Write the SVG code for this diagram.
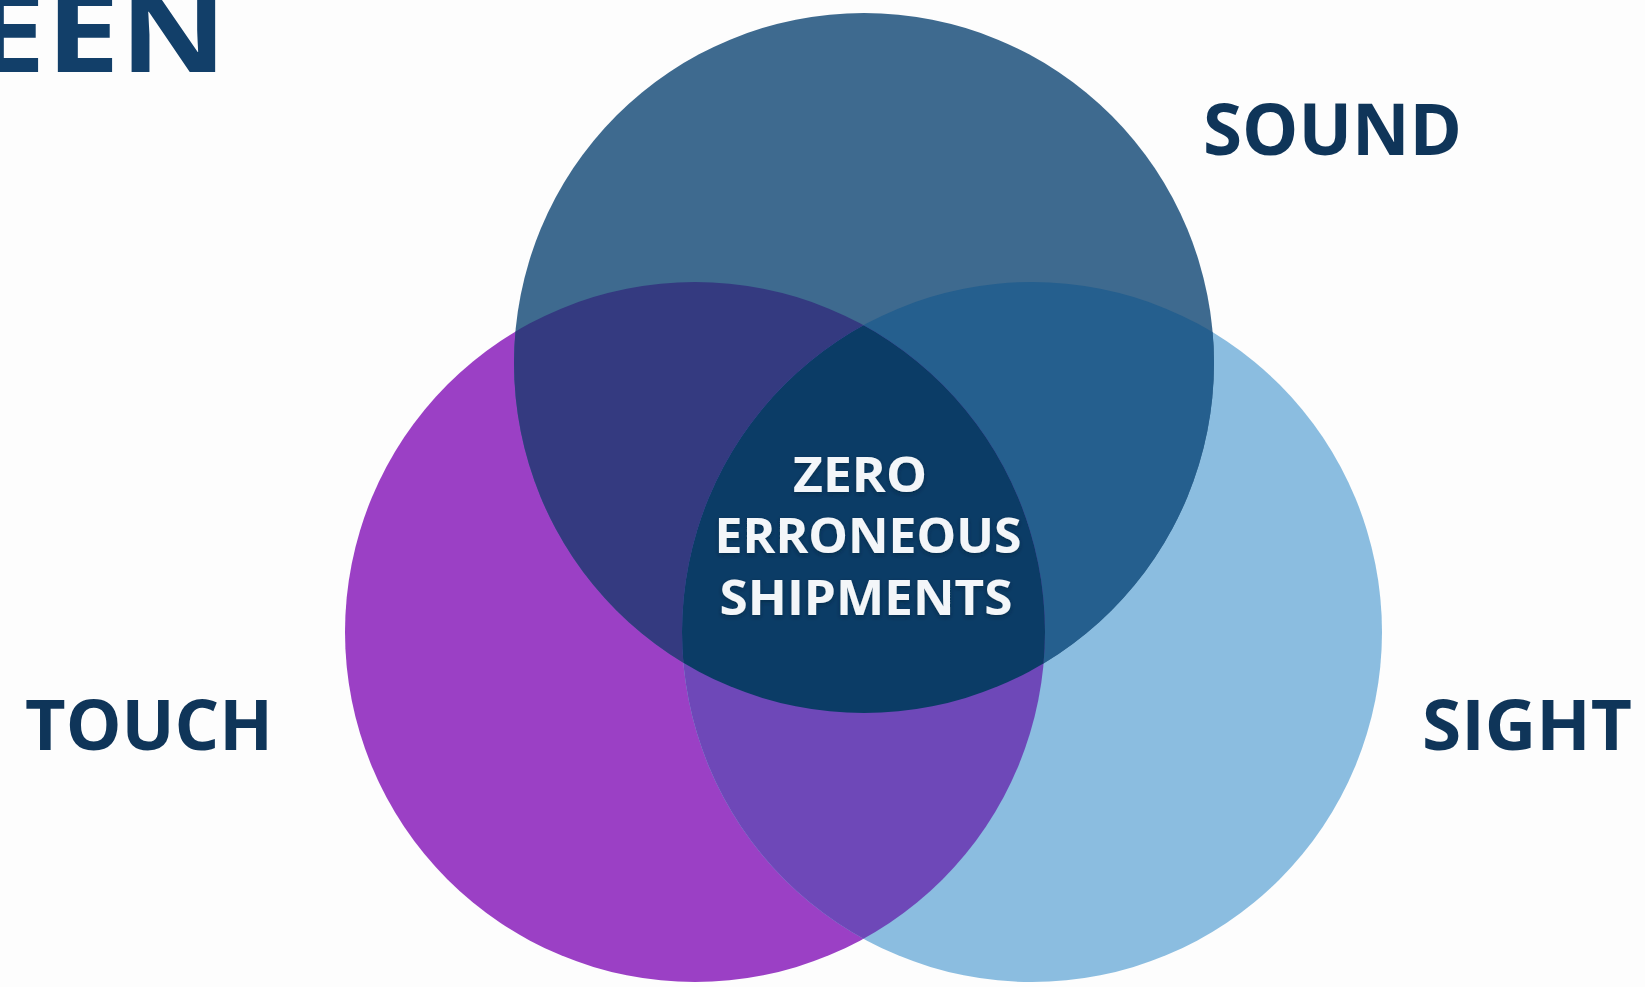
<svg xmlns="http://www.w3.org/2000/svg" width="1645" height="987" viewBox="0 0 1645 987">
<style>
.lbl{font-family:"Open Sans","Liberation Sans",sans-serif;font-weight:700;fill:#0f3559}
.ctr{font-family:"Open Sans","Liberation Sans",sans-serif;font-weight:700;fill:#f3f6f9;font-size:49px;text-anchor:middle}
</style>
<defs>
<clipPath id="cTop"><circle cx="864" cy="363" r="350"/></clipPath>
<clipPath id="cLeft"><circle cx="695" cy="632" r="350"/></clipPath>
<clipPath id="cRight"><circle cx="1032" cy="632" r="350"/></clipPath>
<filter id="sh" x="-10%" y="-10%" width="120%" height="130%"><feDropShadow dx="0" dy="2" stdDeviation="2" flood-color="#001a33" flood-opacity="0.5"/></filter>
</defs>
<rect width="1645" height="987" fill="#fdfdfd"/>
<text x="-28" y="72" font-size="112" textLength="255" lengthAdjust="spacingAndGlyphs" style="font-family:'Open Sans','Liberation Sans',sans-serif;font-weight:700;fill:#123f69">EEN</text>
<g id="touch"><circle cx="695" cy="632" r="350" fill="#9b40c5"/></g>
<g id="sight"><circle cx="1032" cy="632" r="350" fill="#8bbde0"/></g>
<g id="sound"><circle cx="864" cy="363" r="350" fill="#3e6a8f"/></g>
<g id="overlaps">
<g clip-path="url(#cTop)"><circle cx="695" cy="632" r="350" fill="#343a80"/></g>
<g clip-path="url(#cTop)"><circle cx="1032" cy="632" r="350" fill="#255f8e"/></g>
<g clip-path="url(#cLeft)"><circle cx="1032" cy="632" r="350" fill="#6e48b8"/></g>
<g id="center" clip-path="url(#cTop)"><g clip-path="url(#cLeft)"><circle cx="1032" cy="632" r="350" fill="#0b3c66"/></g></g>
</g>
<g id="labels">
<text class="lbl" x="1203" y="155" font-size="72" textLength="259" lengthAdjust="spacingAndGlyphs">SOUND</text>
<text class="lbl" x="25" y="750" font-size="70" textLength="248" lengthAdjust="spacingAndGlyphs">TOUCH</text>
<text class="lbl" x="1422" y="750" font-size="70" textLength="210" lengthAdjust="spacingAndGlyphs">SIGHT</text>
<g filter="url(#sh)">
<text class="ctr" x="860" y="492" textLength="134" lengthAdjust="spacingAndGlyphs">ZERO</text>
<text class="ctr" x="868" y="553" textLength="307" lengthAdjust="spacingAndGlyphs">ERRONEOUS</text>
<text class="ctr" x="866" y="615" textLength="293" lengthAdjust="spacingAndGlyphs">SHIPMENTS</text>
</g>
</g>
</svg>
